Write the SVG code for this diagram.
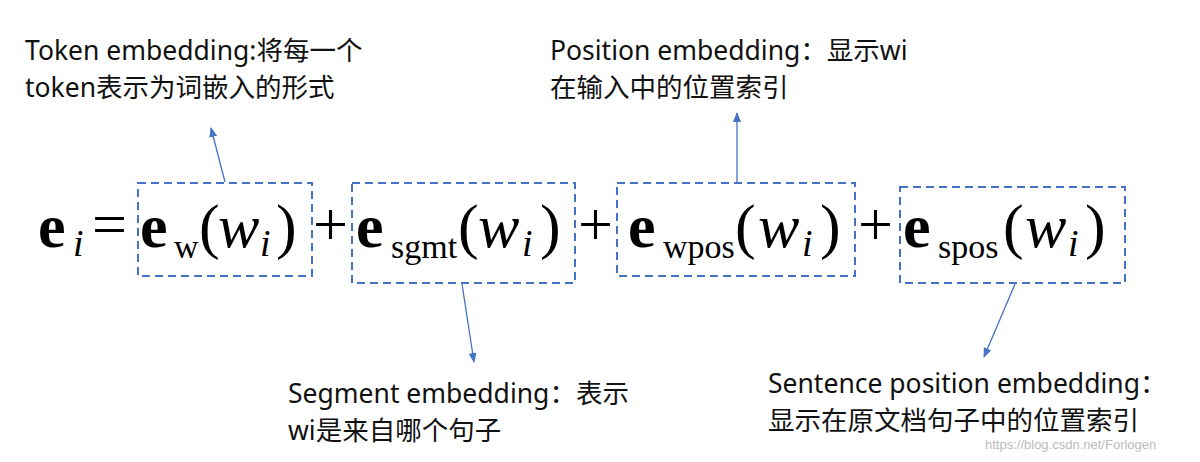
<svg xmlns="http://www.w3.org/2000/svg" width="1200" height="462" viewBox="0 0 1200 462">
<style>
.lbl{font-family:"Noto Sans","Noto Sans CJK SC",sans-serif;font-size:26.5px;fill:#111}
.m{font-family:"Liberation Serif","DejaVu Serif",serif;fill:#000}
.b{font-weight:bold}
.box{fill:none;stroke:#4472C4;stroke-width:2;stroke-dasharray:8,5}
.con{stroke:#4472C4;stroke-width:1.3;fill:none;marker-end:url(#ah)}
</style>
<defs><marker id="ah" markerWidth="10" markerHeight="10" refX="9" refY="5" orient="auto" markerUnits="userSpaceOnUse"><path d="M0,1 L10,5 L0,9 z" fill="#4472C4"/></marker></defs>
<rect width="1200" height="462" fill="#fff"/>
<g id="formula">
<text class="m b" font-size="62" x="38" y="247">e</text><text class="m" font-size="38" font-style="italic" x="73" y="256">i</text>
<text class="m" font-size="62" x="92" y="245">=</text>
<text class="m b" font-size="62" x="140" y="247">e</text><text class="m" font-size="34" x="174" y="258">w</text>
<text class="m" font-size="62" x="199" y="247">(</text><text class="m" font-size="62" font-style="italic" x="218" y="247">w</text><text class="m" font-size="38" font-style="italic" x="260" y="256">i</text><text class="m" font-size="62" x="276" y="247">)</text>
<text class="m" font-size="62" x="313" y="245">+</text>
<text class="m b" font-size="62" x="356" y="247">e</text><text class="m" font-size="34" x="391" y="258">sgmt</text>
<text class="m" font-size="62" x="458" y="247">(</text><text class="m" font-size="62" font-style="italic" x="478" y="247">w</text><text class="m" font-size="38" font-style="italic" x="522" y="256">i</text><text class="m" font-size="62" x="540" y="247">)</text>
<text class="m" font-size="62" x="578" y="245">+</text>
<text class="m b" font-size="62" x="628" y="247">e</text><text class="m" font-size="34" x="663" y="258">wpos</text>
<text class="m" font-size="62" x="735" y="247">(</text><text class="m" font-size="62" font-style="italic" x="758" y="247">w</text><text class="m" font-size="38" font-style="italic" x="802" y="256">i</text><text class="m" font-size="62" x="820" y="247">)</text>
<text class="m" font-size="62" x="858" y="245">+</text>
<text class="m b" font-size="62" x="903" y="247">e</text><text class="m" font-size="34" x="938" y="258">spos</text>
<text class="m" font-size="62" x="1003" y="247">(</text><text class="m" font-size="62" font-style="italic" x="1025" y="247">w</text><text class="m" font-size="38" font-style="italic" x="1068" y="256">i</text><text class="m" font-size="62" x="1085" y="247">)</text>
</g>
<g id="box-w"><rect class="box" x="138" y="183" width="174" height="93"/></g>
<g id="box-sgmt"><rect class="box" x="352" y="183" width="223" height="100"/></g>
<g id="box-wpos"><rect class="box" x="617" y="183" width="238" height="93"/></g>
<g id="box-spos"><rect class="box" x="900" y="187" width="225" height="96"/></g>
<g id="connectors">
<line class="con" x1="225" y1="182" x2="211" y2="128"/>
<line class="con" x1="462" y1="284" x2="474" y2="362"/>
<line class="con" x1="737" y1="182" x2="737" y2="113"/>
<line class="con" x1="1015" y1="284" x2="984" y2="357"/>
</g>
<g id="lbl-token"><text class="lbl" x="25" y="60">Token embedding:将每一个</text><text class="lbl" x="25" y="97">token表示为词嵌入的形式</text></g>
<g id="lbl-position"><text class="lbl" x="550" y="60">Position embedding：显示wi</text><text class="lbl" x="550" y="97">在输入中的位置索引</text></g>
<g id="lbl-segment"><text class="lbl" x="288" y="403">Segment embedding：表示</text><text class="lbl" x="288" y="440">wi是来自哪个句子</text></g>
<g id="lbl-sentence"><text class="lbl" x="768" y="393">Sentence position embedding：</text><text class="lbl" x="768" y="430">显示在原文档句子中的位置索引</text></g>
<text x="985" y="449" font-family="Liberation Sans,sans-serif" font-size="13" fill="#bbb">https://blog.csdn.net/Forlogen</text>
</svg>
